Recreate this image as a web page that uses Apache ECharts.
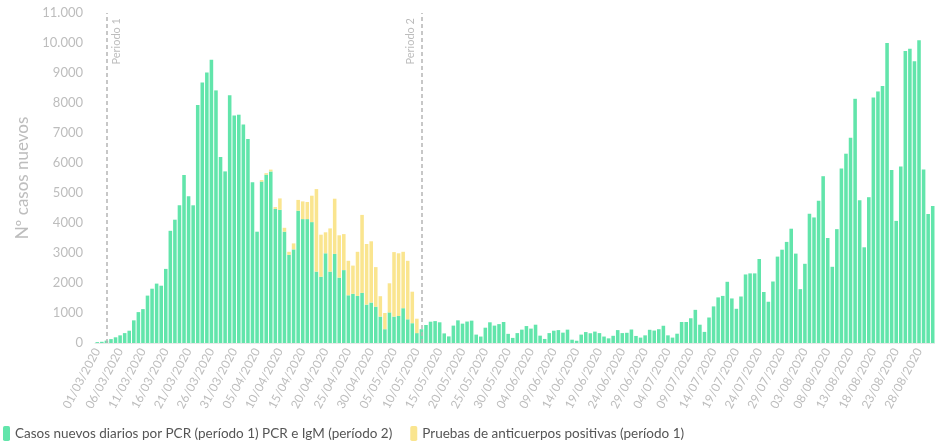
<!DOCTYPE html>
<html>
<head>
<meta charset="utf-8">
<script src="https://cdn.jsdelivr.net/npm/echarts@6/dist/echarts.min.js"></script>
<style>
  html, body { margin: 0; padding: 0; background: #fff; }
  #chart { width: 935px; height: 446px; }
</style>
</head>
<body>
<div id="chart"></div>
<script>
// casos diarios PCR (periodo 1) / PCR + IgM (periodo 2), por mes
const marzo = [30, 40, 80, 130, 190, 255, 330, 410, 755, 1030, 1130, 1580, 1810, 1980, 1910, 2470,
  3740, 4110, 4590, 5600, 4890, 4590, 7930, 8680, 9020, 9440, 8420, 6200, 5720, 8260, 7580];
const abril = [7610, 7280, 6800, 5360, 3710, 5380, 5610, 5720, 4470, 4440, 3710, 2940, 3120, 4410, 4130,
  4130, 4030, 2380, 2210, 2990, 2380, 2970, 2180, 2430, 1590, 1640, 1570, 1670, 1280, 1350];
const mayo = [1210, 880, 460, 1020, 880, 900, 1160, 790, 660, 330, 460, 600, 710, 730, 690, 320,
  220, 580, 755, 645, 715, 745, 280, 215, 510, 690, 580, 630, 700, 305, 170];
const junio = [330, 445, 565, 480, 610, 245, 135, 330, 410, 430, 345, 445, 110, 75, 280, 365,
  325, 380, 330, 215, 155, 240, 430, 330, 340, 450, 235, 180, 255, 440];
const julio = [415, 460, 575, 255, 180, 310, 700, 700, 825, 1105, 610, 370, 850, 1220, 1520, 1570,
  2040, 1485, 1140, 1550, 2285, 2320, 2320, 2800, 1700, 1375, 2050, 2880, 3110, 3370, 3810];
const agosto = [2980, 1795, 2640, 4310, 4185, 4740, 5560, 3500, 2540, 3795, 5815, 6310, 6840, 8140, 4760, 3190,
  4860, 8185, 8385, 8570, 10000, 5770, 4070, 5880, 9735, 9805, 9395, 10090, 5780, 4300, 4570];

// pruebas de anticuerpos positivas (periodo 1), del 06/04 al 10/05
const anticuerpos = [50, 50, 60, 60, 380, 130, 100, 200, 360, 590, 570, 880, 2750, 1400, 700, 1440,
  1840, 1410, 1200, 1150, 940, 1470, 2600, 2020, 2040, 1320, 680, 540, 970, 2150, 2090, 1880, 1950, 1050, 480];
const inicioAnticuerpos = '06/04/2020';

const yTicks = [0, 1000, 2000, 3000, 4000, 5000, 6000, 7000, 8000, 9000, 10000, 11000];
const periodos = [{ fecha: '03/03/2020', nombre: 'Periodo 1' }, { fecha: '11/05/2020', nombre: 'Periodo 2' }];

const pcr = [].concat(marzo, abril, mayo, junio, julio, agosto);

const fechas = [];
const d = new Date(2020, 2, 1);
for (let i = 0; i < pcr.length; i++) {
  const dd = String(d.getDate()).padStart(2, '0');
  const mm = String(d.getMonth() + 1).padStart(2, '0');
  fechas.push(dd + '/' + mm + '/2020');
  d.setDate(d.getDate() + 1);
}

const offset = fechas.indexOf(inicioAnticuerpos);
const igg = fechas.map((f, i) => {
  const j = i - offset;
  return j >= 0 && j < anticuerpos.length ? anticuerpos[j] : null;
});

const fmt = (v) => v >= 10000 ? String(v).replace(/(\d+)(\d{3})$/, '$1.$2') : String(v);

const chart = echarts.init(document.getElementById('chart'));
const option = {
  animation: false,
  textStyle: { fontFamily: 'Lato' },
  grid: { left: 95, right: 0, top: 13, bottom: 103 },
  legend: {
    left: -2,
    bottom: 0,
    icon: 'roundRect',
    itemWidth: 7,
    itemHeight: 15,
    itemGap: 18,
    textStyle: { color: '#555', fontSize: 13.5, fontFamily: 'Lato' },
    data: ['Casos nuevos diarios por PCR (período 1) PCR e IgM (período 2)', 'Pruebas de anticuerpos positivas (período 1)']
  },
  xAxis: {
    type: 'category',
    data: fechas,
    axisTick: { show: false },
    axisLine: { lineStyle: { color: '#e8e8e8' } },
    axisLabel: {
      interval: (idx) => idx % 5 === 0,
      rotate: 62,
      color: '#bdbdbd',
      fontSize: 12,
      margin: 6
    }
  },
  yAxis: {
    type: 'value',
    min: 0,
    max: yTicks[yTicks.length - 1],
    interval: 1000,
    name: 'Nº casos nuevos',
    nameLocation: 'middle',
    nameGap: 62,
    nameTextStyle: { color: '#bdbdbd', fontSize: 17 },
    splitLine: { show: false },
    axisLine: { show: false },
    axisTick: { show: false },
    axisLabel: { color: '#bdbdbd', fontSize: 13, margin: 12, formatter: fmt }
  },
  series: [
    {
      name: 'Casos nuevos diarios por PCR (período 1) PCR e IgM (período 2)',
      type: 'bar',
      stack: 'total',
      barCategoryGap: '22%',
      data: pcr,
      itemStyle: { color: '#62e5ab' },
      markLine: {
        symbol: 'none',
        silent: true,
        lineStyle: { color: '#b5b5b5', type: [4, 3], width: 1.5 },
        data: periodos.map((p, i) => ({
          xAxis: p.fecha,
          label: {
            formatter: p.nombre,
            position: i === 0 ? 'insideEndBottom' : 'insideEndTop',
            color: '#bdbdbd',
            fontSize: 11,
            distance: 5
          }
        }))
      }
    },
    {
      name: 'Pruebas de anticuerpos positivas (período 1)',
      type: 'bar',
      stack: 'total',
      barCategoryGap: '22%',
      data: igg,
      itemStyle: { color: '#fae58f' }
    }
  ]
};
chart.setOption(option);
</script>
</body>
</html>
